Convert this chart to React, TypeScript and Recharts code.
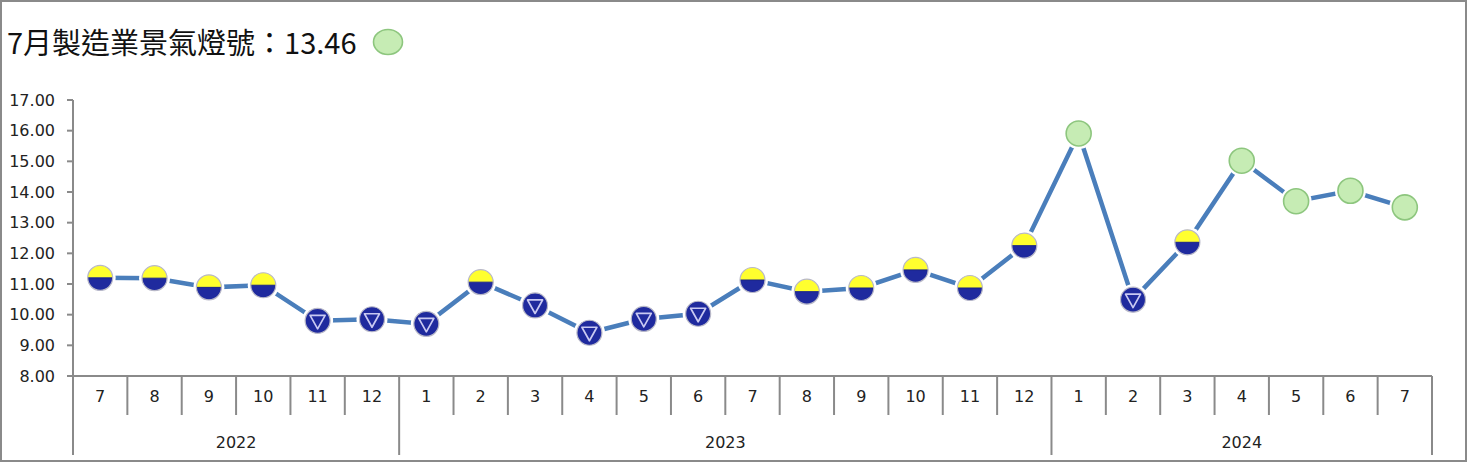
import { LineChart, Line, XAxis, YAxis } from 'recharts';

const MONTHS = ['7', '8', '9', '10', '11', '12', '1', '2', '3', '4', '5', '6', '7', '8', '9', '10', '11', '12', '1', '2', '3', '4', '5', '6', '7'];
const YEARS = ['2022', '2023', '2024'];
const YEAR_SPAN = [6, 12, 7];
const SCORES = [11.2, 11.19, 10.89, 10.96, 9.8, 9.85, 9.7, 11.06, 10.3, 9.41, 9.86, 10.03, 11.13, 10.75, 10.87, 11.46, 10.87, 12.25, 15.91, 10.49, 12.36, 15.02, 13.7, 14.04, 13.5];
// yb = 黃藍燈, b = 藍燈, g = 綠燈
const SIGNALS = ['yb', 'yb', 'yb', 'yb', 'b', 'b', 'b', 'yb', 'b', 'b', 'b', 'b', 'yb', 'yb', 'yb', 'yb', 'yb', 'yb', 'g', 'b', 'yb', 'g', 'g', 'g', 'g'];
const Y_TICKS = [8, 9, 10, 11, 12, 13, 14, 15, 16, 17];
const TITLE = '7月製造業景氣燈號：13.46';

const W = 1467;
const H = 462;
const TOP = 100;
const LEFT = 73;
const RIGHT = 35;
const X_AXIS_H = 86;
const AXIS_Y = H - X_AXIS_H;
const BAND = (W - LEFT - RIGHT) / MONTHS.length;
const GRAY = '#8a8a8a';
const FONT = '"DejaVu Sans", sans-serif';

const data = MONTHS.map((m, i) => ({ key: `${i}`, month: m, value: SCORES[i], signal: SIGNALS[i] }));

const yearStart: number[] = [];
YEAR_SPAN.reduce((acc, n) => {
    yearStart.push(acc);
    return acc + n;
}, 0);

function SignalDot(props: any) {
    const { cx, cy, index } = props;
    if (cx == null || cy == null) return null;
    const s = SIGNALS[index];
    const r = 12.5;
    if (s === 'g') {
        return (
            <g key={`d${index}`}>
                <circle cx={cx} cy={cy} r={r + 3} fill="white" />
                <circle cx={cx} cy={cy} r={r} fill="#c6ecb4" stroke="#8dc67e" strokeWidth={1.6} />
            </g>
        );
    }
    if (s === 'yb') {
        return (
            <g key={`d${index}`}>
                <circle cx={cx} cy={cy} r={r + 3} fill="white" />
                <path d={`M ${cx - r} ${cy} A ${r} ${r} 0 0 1 ${cx + r} ${cy} Z`} fill="#ffff2e" />
                <path d={`M ${cx - r} ${cy} A ${r} ${r} 0 0 0 ${cx + r} ${cy} Z`} fill="#1f2a9e" />
                <line x1={cx - r} x2={cx + r} y1={cy} y2={cy} stroke="#1a2480" strokeWidth={1} />
                <circle cx={cx} cy={cy} r={r} fill="none" stroke="#b8b8c8" strokeWidth={1.2} />
            </g>
        );
    }
    return (
        <g key={`d${index}`}>
            <circle cx={cx} cy={cy} r={r + 3} fill="white" />
            <circle cx={cx} cy={cy} r={r} fill="#1f2a9e" stroke="#b8b8c8" strokeWidth={1.2} />
            <path
                d={`M ${cx - 7.5} ${cy - 5.5} L ${cx + 7.5} ${cy - 5.5} L ${cx} ${cy + 8} Z`}
                fill="none"
                stroke="#c9c9f2"
                strokeWidth={1.7}
                strokeLinejoin="round"
            />
        </g>
    );
}

function MonthTick(props: any) {
    const { x, index } = props;
    const left = x - BAND / 2;
    const yi = yearStart.indexOf(index);
    const isYearStart = yi >= 0;
    const isLast = index === MONTHS.length - 1;
    return (
        <g>
            <line x1={left} x2={left} y1={AXIS_Y} y2={isYearStart ? AXIS_Y + 79 : AXIS_Y + 39} stroke={GRAY} strokeWidth={2} />
            {isLast && <line x1={left + BAND} x2={left + BAND} y1={AXIS_Y} y2={AXIS_Y + 79} stroke={GRAY} strokeWidth={2} />}
            <text x={x} y={AXIS_Y + 26} textAnchor="middle" fontSize={16} fontFamily={FONT} fill="#222">
                {MONTHS[index]}
            </text>
            {isYearStart && (
                <text x={left + (YEAR_SPAN[yi] * BAND) / 2} y={AXIS_Y + 72} textAnchor="middle" fontSize={16} fontFamily={FONT} fill="#222">
                    {YEARS[yi]}
                </text>
            )}
        </g>
    );
}

export default function App() {
    return (
        <div style={{ position: 'absolute', left: 0, top: 0, width: W, height: H, background: 'white' }}>
            <div style={{ position: 'absolute', left: 0, top: 0, width: W - 4, height: H - 4, border: '2px solid #8a8a8a' }} />
            <div
                style={{
                    position: 'absolute',
                    left: 7,
                    top: 21,
                    fontSize: 29,
                    fontFamily: '"Noto Sans CJK TC", sans-serif',
                    color: '#111',
                    lineHeight: '40px',
                    whiteSpace: 'nowrap',
                }}
            >
                {TITLE}
            </div>
            <svg style={{ position: 'absolute', left: 370, top: 27 }} width={36} height={32}>
                <ellipse cx={18} cy={15} rx={14.5} ry={12.5} fill="#c6ecb4" stroke="#8dc67e" strokeWidth={1.6} />
            </svg>
            <div style={{ position: 'absolute', left: 0, top: 0 }}>
                <LineChart width={W} height={H} data={data} margin={{ top: TOP, right: RIGHT, bottom: 0, left: 0 }}>
                    <XAxis
                        dataKey="key"
                        type="category"
                        scale="band"
                        interval={0}
                        height={X_AXIS_H}
                        axisLine={{ stroke: GRAY, strokeWidth: 2 }}
                        tickLine={false}
                        tick={<MonthTick />}
                    />
                    <YAxis
                        type="number"
                        domain={[8, 17]}
                        ticks={Y_TICKS}
                        width={LEFT}
                        interval={0}
                        tickFormatter={(v: number) => v.toFixed(2)}
                        axisLine={{ stroke: GRAY, strokeWidth: 2 }}
                        tickLine={{ stroke: GRAY, strokeWidth: 2 }}
                        tickSize={6}
                        tickMargin={12}
                        tick={{ fontSize: 16, fontFamily: FONT, fill: '#222' }}
                    />
                    <Line
                        type="linear"
                        dataKey="value"
                        stroke="#4a7ebb"
                        strokeWidth={4.5}
                        dot={(p: any) => <SignalDot key={`dot-${p.index}`} {...p} />}
                        activeDot={false}
                        isAnimationActive={false}
                    />
                </LineChart>
            </div>
        </div>
    );
}
